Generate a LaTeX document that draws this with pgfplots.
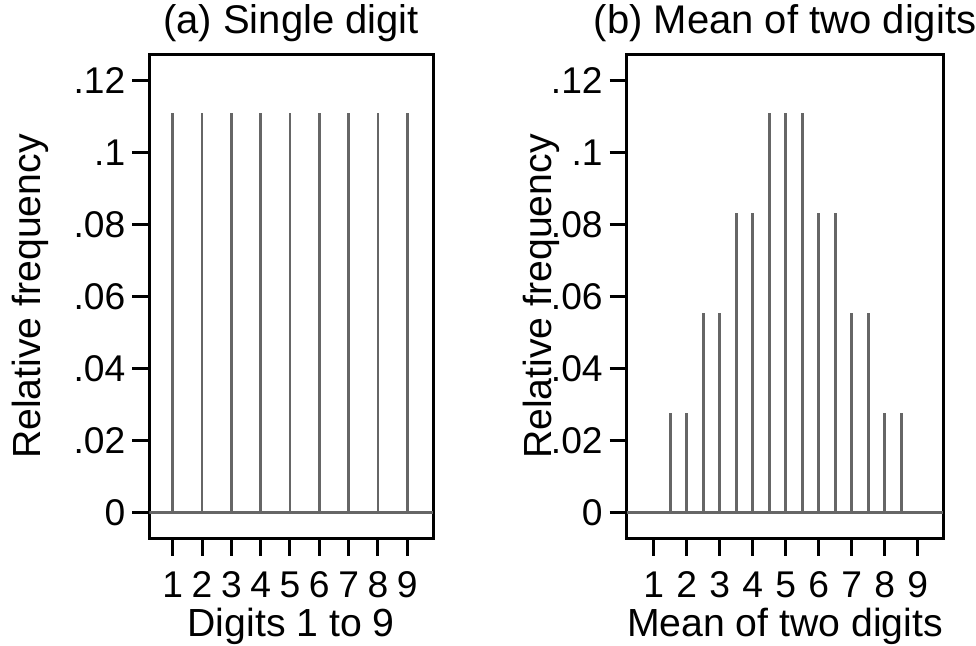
\documentclass[border=0pt]{standalone}
\usepackage{pgfplots}
\pgfplotsset{compat=1.18}
\usepackage{fontspec}
\setmainfont{Liberation Sans}

\definecolor{stem}{RGB}{102,102,102}

\pgfplotsset{
  panel/.style={
    scale only axis,
    height=241.9bp,
    ymin=-0.00717, ymax=0.1272,
    ytick={0,0.02,0.04,0.06,0.08,0.1,0.12},
    yticklabels={0,.02,.04,.06,.08,.1,.12},
    xtick={1,2,3,4,5,6,7,8,9},
    xticklabels={1,2,3,4,5,6,7,8,9},
    xtick pos=bottom, ytick pos=left,
    tick align=outside,
    major tick length=8.5bp,
    tick style={black, line width=1.5bp},
    axis line style={black, line width=1.5bp},
    ticklabel style={font=\fontsize{18.6bp}{21bp}\selectfont},
    label style={font=\fontsize{19.6bp}{23bp}\selectfont},
    title style={font=\fontsize{20bp}{23bp}\selectfont, at={(0.5,1)}, anchor=base, yshift=4.7bp},
    xlabel style={at={(0.5,0)}, anchor=base, yshift=-49bp},
    ylabel style={at={(0,0.5)}, anchor=base},
    yticklabel style={anchor=east},
    xticklabel style={anchor=base, yshift=-20.9bp},
    every axis plot/.style={stem, line width=1.4bp},
  },
}

\begin{document}
\begin{tikzpicture}
\path[use as bounding box] (0,0) rectangle (488bp,323bp);

\begin{axis}[panel,
  at={(74.65bp,53.75bp)}, anchor=south west,
  width=141.85bp,
  xmin=0.2, xmax=9.88,
  title={(a) Single digit},
  xlabel={Digits 1 to 9},
  ylabel={Relative frequency},
  ylabel style={yshift=54.5bp},
]
\addplot[ycomb, no marks] coordinates {
  (1,0.1111) (2,0.1111) (3,0.1111) (4,0.1111) (5,0.1111)
  (6,0.1111) (7,0.1111) (8,0.1111) (9,0.1111)
};
\draw[stem, line width=1.5bp] ({rel axis cs:0,0} |- {axis cs:1,0}) -- ({rel axis cs:1,0} |- {axis cs:1,0});
\end{axis}

\begin{axis}[panel,
  at={(313.35bp,53.75bp)}, anchor=south west,
  width=158.3bp,
  xmin=0.182, xmax=9.776,
  title={(b) Mean of two digits},
  xlabel={Mean of two digits},
  ylabel={Relative frequency},
  ylabel style={yshift=37.7bp},
]
\addplot[ycomb, no marks] coordinates {
  (1.5,0.02778) (2,0.02778) (2.5,0.05556) (3,0.05556)
  (3.5,0.08333) (4,0.08333) (4.5,0.11111) (5,0.11111) (5.5,0.11111)
  (6,0.08333) (6.5,0.08333) (7,0.05556) (7.5,0.05556)
  (8,0.02778) (8.5,0.02778)
};
\draw[stem, line width=1.5bp] ({rel axis cs:0,0} |- {axis cs:1,0}) -- ({rel axis cs:1,0} |- {axis cs:1,0});
\end{axis}
\end{tikzpicture}
\end{document}
